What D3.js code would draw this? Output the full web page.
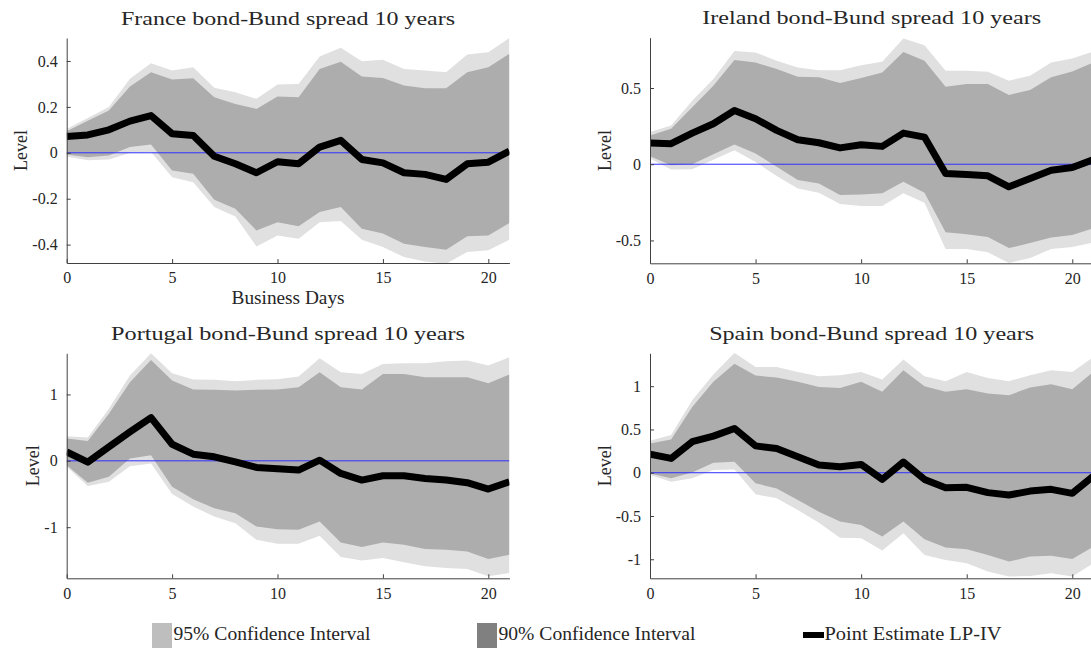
<!DOCTYPE html>
<html><head><meta charset="utf-8">
<script src="https://cdn.jsdelivr.net/npm/d3@7"></script>
<style>
body{margin:0;background:#fff;overflow:hidden;}
text{font-family:"Liberation Serif",serif;fill:#262626;}
</style></head><body>
<svg id="c" width="1091" height="648"></svg>
<script>
// ---------- data ----------
const days = [0,1,2,3,4,5,6,7,8,9,10,11,12,13,14,15,16,17,18,19,20,21];
const xTicks = [0,5,10,15,20];

const titles = ["France bond-Bund spread 10 years","Ireland bond-Bund spread 10 years",
                "Portugal bond-Bund spread 10 years","Spain bond-Bund spread 10 years"];
const xAxisLabel = "Business Days";
const yAxisLabel = "Level";
const legendLabels = ["95% Confidence Interval","90% Confidence Interval","Point Estimate LP-IV"];

const franceEst  = [0.071,0.078,0.100,0.138,0.162,0.083,0.075,-0.015,-0.048,-0.087,-0.039,-0.048,0.025,0.054,-0.029,-0.044,-0.087,-0.094,-0.116,-0.048,-0.041,0.007];
const franceHi90 = [0.094,0.140,0.184,0.289,0.351,0.319,0.325,0.242,0.213,0.191,0.245,0.242,0.365,0.397,0.332,0.326,0.293,0.281,0.281,0.351,0.373,0.431];
const franceHi95 = [0.104,0.152,0.199,0.322,0.390,0.358,0.373,0.283,0.264,0.235,0.297,0.300,0.419,0.457,0.399,0.405,0.365,0.358,0.351,0.428,0.438,0.500];
const franceLo90 = [-0.007,-0.019,-0.012,0.025,0.036,-0.077,-0.091,-0.204,-0.244,-0.338,-0.302,-0.320,-0.258,-0.236,-0.331,-0.352,-0.396,-0.410,-0.422,-0.364,-0.360,-0.306];
const franceLo95 = [-0.016,-0.033,-0.029,-0.001,0.003,-0.106,-0.128,-0.236,-0.277,-0.408,-0.360,-0.374,-0.302,-0.297,-0.379,-0.410,-0.454,-0.473,-0.483,-0.432,-0.425,-0.379];
const franceTicks = [-0.4,-0.2,0,0.2,0.4];

const irelandEst  = [0.139,0.135,0.204,0.265,0.352,0.298,0.222,0.161,0.141,0.107,0.128,0.117,0.204,0.178,-0.061,-0.067,-0.076,-0.148,-0.093,-0.039,-0.022,0.030];
const irelandHi90 = [0.189,0.233,0.374,0.515,0.683,0.667,0.624,0.574,0.570,0.533,0.565,0.602,0.737,0.678,0.509,0.526,0.526,0.454,0.487,0.570,0.609,0.667];
const irelandHi95 = [0.211,0.254,0.417,0.559,0.743,0.733,0.678,0.635,0.617,0.617,0.650,0.672,0.824,0.780,0.613,0.613,0.607,0.548,0.580,0.667,0.693,0.739];
const irelandLo90 = [0.052,-0.007,0.000,0.065,0.130,0.070,-0.017,-0.104,-0.126,-0.202,-0.198,-0.191,-0.115,-0.187,-0.446,-0.459,-0.478,-0.550,-0.517,-0.480,-0.465,-0.420];
const irelandLo95 = [0.037,-0.035,-0.033,0.030,0.091,0.015,-0.078,-0.159,-0.187,-0.261,-0.274,-0.274,-0.191,-0.252,-0.557,-0.557,-0.578,-0.648,-0.615,-0.557,-0.543,-0.513];
const irelandTicks = [-0.5,0,0.5];

const portugalEst  = [0.135,-0.020,0.210,0.435,0.650,0.250,0.100,0.060,-0.015,-0.100,-0.120,-0.140,0.010,-0.190,-0.290,-0.225,-0.225,-0.265,-0.290,-0.330,-0.425,-0.315];
const portugalHi90 = [0.335,0.300,0.710,1.185,1.520,1.210,1.075,1.070,1.060,1.070,1.075,1.110,1.335,1.110,1.075,1.310,1.310,1.260,1.260,1.260,1.170,1.300];
const portugalHi95 = [0.370,0.350,0.785,1.285,1.620,1.320,1.225,1.220,1.200,1.220,1.230,1.270,1.545,1.335,1.310,1.460,1.470,1.470,1.500,1.510,1.435,1.560];
const portugalLo90 = [-0.065,-0.330,-0.240,0.035,0.085,-0.390,-0.580,-0.715,-0.790,-0.990,-1.030,-1.040,-0.915,-1.230,-1.300,-1.230,-1.265,-1.330,-1.340,-1.365,-1.480,-1.415];
const portugalLo95 = [-0.090,-0.380,-0.315,-0.080,-0.040,-0.500,-0.690,-0.840,-0.940,-1.190,-1.250,-1.250,-1.130,-1.450,-1.500,-1.465,-1.530,-1.590,-1.615,-1.630,-1.740,-1.690];
const portugalTicks = [-1,0,1];

const spainEst  = [0.215,0.165,0.358,0.423,0.512,0.310,0.280,0.185,0.088,0.069,0.096,-0.077,0.123,-0.077,-0.173,-0.169,-0.230,-0.258,-0.212,-0.192,-0.238,-0.038];
const spainHi90 = [0.338,0.385,0.760,1.050,1.260,1.123,1.100,1.050,0.992,0.980,1.050,0.935,1.185,1.000,0.935,0.965,0.915,0.896,0.985,1.023,0.965,1.165];
const spainHi95 = [0.369,0.435,0.838,1.135,1.385,1.223,1.223,1.165,1.115,1.127,1.165,1.077,1.308,1.115,1.058,1.165,1.096,1.058,1.127,1.185,1.165,1.338];
const spainLo90 = [-0.008,-0.065,0.004,0.115,0.127,-0.123,-0.181,-0.315,-0.450,-0.565,-0.604,-0.738,-0.565,-0.769,-0.865,-0.885,-0.950,-1.027,-0.969,-0.958,-0.996,-0.854];
const spainLo95 = [-0.027,-0.104,-0.065,0.031,0.038,-0.250,-0.296,-0.431,-0.577,-0.750,-0.758,-0.900,-0.700,-0.950,-1.008,-1.046,-1.142,-1.200,-1.192,-1.162,-1.200,-1.046];
const spainTicks = [-1,-0.5,0,0.5,1];

// ---------- layout ----------
const panels = [
  {title:titles[0], est:franceEst, hi90:franceHi90, hi95:franceHi95, lo90:franceLo90, lo95:franceLo95, ticks:franceTicks, ylim:[-0.48,0.5], box:[66.7,509.4,38,263], titleW:334, xlabel:true},
  {title:titles[1], est:irelandEst, hi90:irelandHi90, hi95:irelandHi95, lo90:irelandLo90, lo95:irelandLo95, ticks:irelandTicks, ylim:[-0.65,0.83], box:[650,1093.4,37.7,263.3], titleW:339, xlabel:false},
  {title:titles[2], est:portugalEst, hi90:portugalHi90, hi95:portugalHi95, lo90:portugalLo90, lo95:portugalLo95, ticks:portugalTicks, ylim:[-1.77,1.62], box:[66.7,509.4,353.3,578.3], titleW:354, xlabel:false},
  {title:titles[3], est:spainEst, hi90:spainHi90, hi95:spainHi95, lo90:spainLo90, lo95:spainLo95, ticks:spainTicks, ylim:[-1.22,1.38], box:[650,1093.4,353.3,578.3], titleW:325, xlabel:false}
];

const C95 = "#e0e0e0", C90 = "#adadad", CZERO = "#3030ff", AX = "#404040";
const svg = d3.select("#c");
const fit = (sel, w) => sel.attr("textLength", w).attr("lengthAdjust", "spacingAndGlyphs");

panels.forEach((p,pi) => {
  const [x0,x1,y0,y1] = p.box;
  const x = d3.scaleLinear().domain([0,21]).range([x0,x1]);
  const y = d3.scaleLinear().domain(p.ylim).range([y1,y0]);
  const g = svg.append("g");
  const cid = "clip"+pi;
  g.append("clipPath").attr("id",cid).append("rect")
    .attr("x",x0).attr("y",y0).attr("width",x1-x0).attr("height",y1-y0);
  const pg = g.append("g").attr("clip-path",`url(#${cid})`);
  const area = (lo,hi) => d3.area().x((d,i)=>x(days[i])).y0((d,i)=>y(lo[i])).y1((d,i)=>y(hi[i]))(days);
  pg.append("path").attr("d",area(p.lo95,p.hi95)).attr("fill",C95);
  pg.append("path").attr("d",area(p.lo90,p.hi90)).attr("fill",C90);
  pg.append("line").attr("x1",x(0)).attr("x2",x(21)).attr("y1",y(0)).attr("y2",y(0))
    .attr("stroke",CZERO).attr("stroke-width",1);
  pg.append("path").attr("d",d3.line().x((d,i)=>x(days[i])).y((d,i)=>y(p.est[i]))(days))
    .attr("fill","none").attr("stroke","#000").attr("stroke-width",7)
    .attr("stroke-linejoin","round").attr("stroke-linecap","butt");

  // axes
  const xa = g.append("g").attr("transform",`translate(0,${y1})`)
    .call(d3.axisBottom(x).tickValues(xTicks).tickSizeInner(-4).tickSizeOuter(0).tickPadding(9).tickFormat(d3.format("d")));
  const ya = g.append("g").attr("transform",`translate(${x0},0)`)
    .call(d3.axisLeft(y).tickValues(p.ticks).tickSizeInner(-4).tickSizeOuter(0).tickPadding(9).tickFormat(d=>String(d)));
  [xa,ya].forEach(a=>{
    a.select(".domain").attr("stroke",AX);
    a.selectAll(".tick line").attr("stroke",AX);
    a.selectAll("text").attr("font-family","Liberation Serif, serif").attr("font-size",16).attr("fill","#262626");
  });
  xa.selectAll("text").attr("dy","0.71em");

  // title
  fit(g.append("text").attr("x",(x0+x1)/2).attr("y",y0-13.5).attr("text-anchor","middle")
    .attr("font-size",19).text(p.title), p.titleW);

  // y label
  let maxW = 0;
  ya.selectAll(".tick text").each(function(){ maxW = Math.max(maxW,this.getBBox().width); });
  const lx = x0 - 5 - maxW - 9;
  g.append("text").attr("transform",`translate(${lx},${(y0+y1)/2}) rotate(-90)`)
    .attr("text-anchor","middle").attr("font-size",18).text(yAxisLabel);

  if (p.xlabel) {
    fit(g.append("text").attr("x",(x0+x1)/2).attr("y",y1+41).attr("text-anchor","middle")
      .attr("font-size",18).text(xAxisLabel), 113);
  }
});

// legend
const leg = svg.append("g");
const legItems = [
  {label:legendLabels[0], x:152, type:"patch", color:"#bebebe", w:197},
  {label:legendLabels[1], x:477, type:"patch", color:"#808080", w:197},
  {label:legendLabels[2], x:803, type:"line",  color:"#000",    w:177}
];
legItems.forEach(it=>{
  if (it.type==="patch") leg.append("rect").attr("x",it.x).attr("y",623).attr("width",20).attr("height",26).attr("fill",it.color);
  else leg.append("rect").attr("x",it.x).attr("y",632).attr("width",21).attr("height",6).attr("fill",it.color);
  fit(leg.append("text").attr("x",it.x+21.5).attr("y",640).attr("font-size",18).text(it.label), it.w);
});
</script>
</body></html>
